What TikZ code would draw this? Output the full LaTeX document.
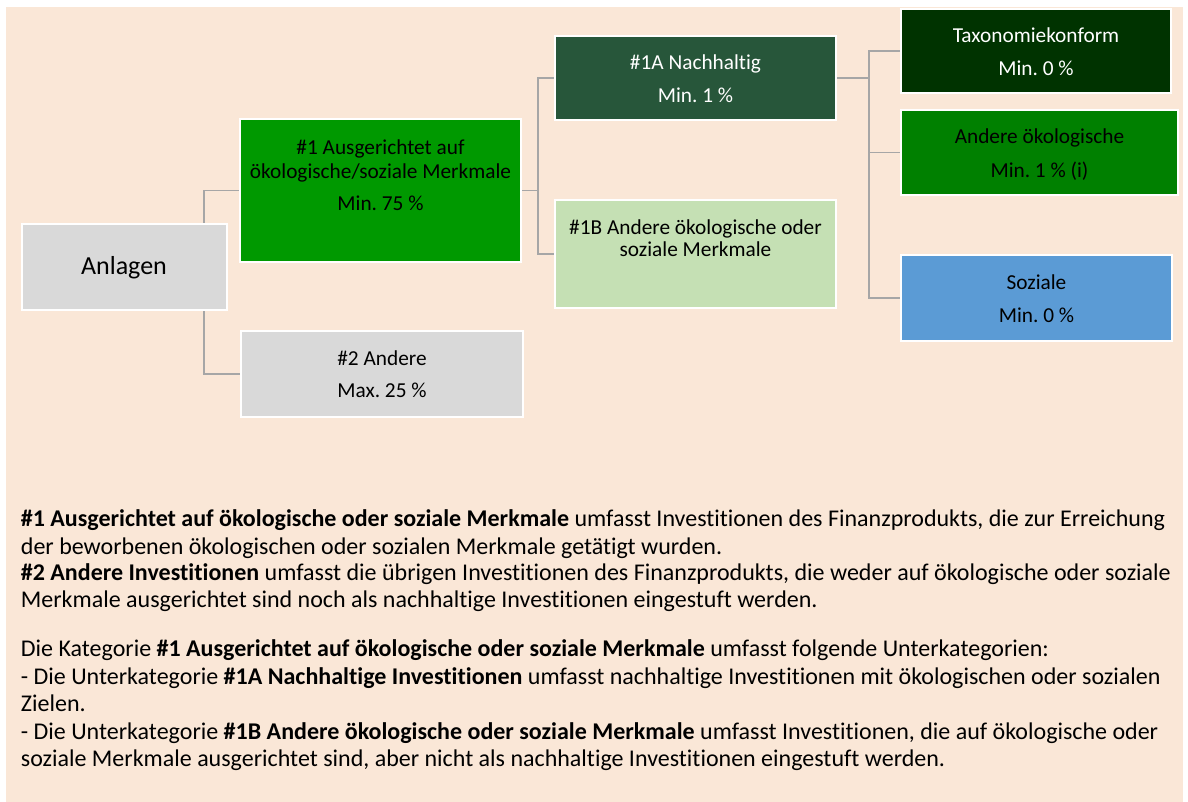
\documentclass[tikz,border=0pt]{standalone}
\usepackage{fontspec}
\setmainfont{Carlito}[Ligatures=NoCommon]
\usetikzlibrary{calc}

\definecolor{peach}{HTML}{FAE7D7}
\definecolor{greyfill}{HTML}{D9D9D9}
\definecolor{brightgreen}{HTML}{009900}
\definecolor{forest}{HTML}{27563A}
\definecolor{palegreen}{HTML}{C5E0B4}
\definecolor{nightgreen}{HTML}{003300}
\definecolor{midgreen}{HTML}{008000}
\definecolor{skyblue}{HTML}{5B9BD5}
\definecolor{linkgrey}{HTML}{A6A6A6}

\newcommand{\boxfont}{\fontsize{21.3}{25}\selectfont}
\newcommand{\rootfont}{\fontsize{26}{30}\selectfont}
\newcommand{\bodyfont}{\fontsize{24}{27}\selectfont}

\begin{document}
\frenchspacing
\begin{tikzpicture}[x=1pt, y=-1pt,
  box/.style={draw=white, line width=2pt, inner sep=0pt, outer sep=0pt},
  lbl/.style={anchor=base, inner sep=0pt, font=\boxfont},
  body/.style={anchor=base west, inner sep=0pt, font=\bodyfont},
  link/.style={draw=linkgrey, line width=1.5pt}]

\useasboundingbox (0,0) rectangle (1188,802);
\fill[white] (0,0) rectangle (1188,802);
\fill[peach] (6,7) rectangle (1183,802);

% boxes of the tree
\node[box, fill=greyfill,    minimum width=205, minimum height=86]   (anl) at (124.5,267) {};
\node[box, fill=brightgreen, minimum width=281, minimum height=143]  (b1)  at (380.5,190.5) {};
\node[box, fill=greyfill,    minimum width=282, minimum height=86]   (b2)  at (382,374) {};
\node[box, fill=forest,      minimum width=281, minimum height=84]   (b1a) at (695.5,78) {};
\node[box, fill=palegreen,   minimum width=281, minimum height=107.5] (b1b) at (695.5,254.25) {};
\node[box, fill=nightgreen,  minimum width=270, minimum height=84]   (tax) at (1036,51) {};
\node[box, fill=midgreen,    minimum width=277, minimum height=85.5] (ando) at (1039.5,152.75) {};
\node[box, fill=skyblue,     minimum width=271, minimum height=85.5] (soz) at (1036.5,297.75) {};

% elbow points of the connectors
\coordinate (ja) at (204,0);
\coordinate (jb) at (538,0);
\coordinate (jc) at (869,0);

% connectors (drawn, then the boxes are redrawn on top of them)
\path[link] (anl.north -| ja) |- (b1.west);
\path[link] (anl.south -| ja) |- (b2.west);
\path[link] (b1.east) -- (b1.east -| jb) |- (b1a.west);
\path[link] (b1.east -| jb) |- (b1b.west);
\path[link] (b1a.east) -- (b1a.east -| jc) |- (tax.west);
\path[link] (b1a.east -| jc) |- (ando.west);
\path[link] (b1a.east -| jc) |- (soz.west);

\foreach \n/\c in {anl/greyfill, b1/brightgreen, b2/greyfill, b1a/forest,
                   b1b/palegreen, tax/nightgreen, ando/midgreen, soz/skyblue}{
  \path[box, fill=\c] (\n.north west) rectangle (\n.south east);
}

% box texts
\node[lbl, font=\rootfont] (t-anl) at (124,275) {Anlagen};
\node[lbl] (t-b1-1) at (380.5,155) {\#1 Ausgerichtet auf};
\node[lbl] (t-b1-2) at (380.5,179) {ökologische/soziale Merkmale};
\node[lbl] (t-b1-3) at (380.5,211) {Min. 75 \%};
\node[lbl] (t-b2-1) at (382,365) {\#2 Andere};
\node[lbl] (t-b2-2) at (382,397) {Max. 25 \%};
\node[lbl, text=white] (t-b1a-1) at (695.5,69.5) {\#1A Nachhaltig};
\node[lbl, text=white] (t-b1a-2) at (695.5,102.5) {Min. 1 \%};
\node[lbl] (t-b1b-1) at (695.5,235) {\#1B Andere ökologische oder};
\node[lbl] (t-b1b-2) at (695.5,257) {soziale Merkmale};
\node[lbl, text=white] (t-tax-1) at (1036,42.5) {Taxonomiekonform};
\node[lbl, text=white] (t-tax-2) at (1036,75.5) {Min. 0 \%};
\node[lbl] (t-ando-1) at (1039.5,144) {Andere ökologische};
\node[lbl] (t-ando-2) at (1039.5,177.5) {Min. 1 \% (i)};
\node[lbl] (t-soz-1) at (1036.5,289.5) {Soziale};
\node[lbl] (t-soz-2) at (1036.5,322) {Min. 0 \%};

% explanatory text
\node[body] (p1) at (20.7,526.7) {\textbf{\#1 Ausgerichtet auf ökologische oder soziale Merkmale} umfasst Investitionen des Finanzprodukts, die zur Erreichung};
\node[body] (p2) at (20.7,554.3) {der beworbenen ökologischen oder sozialen Merkmale getätigt wurden.};
\node[body] (p3) at (20.7,580.7) {\textbf{\#2 Andere Investitionen} umfasst die übrigen Investitionen des Finanzprodukts, die weder auf ökologische oder soziale};
\node[body] (p4) at (20.7,607.7) {Merkmale ausgerichtet sind noch als nachhaltige Investitionen eingestuft werden.};
\node[body] (p5) at (20.7,656.7) {Die Kategorie \textbf{\#1 Ausgerichtet auf ökologische oder soziale Merkmale} umfasst folgende Unterkategorien:};
\node[body] (p6) at (20.7,684.3) {- Die Unterkategorie \textbf{\#1A Nachhaltige Investitionen} umfasst nachhaltige Investitionen mit ökologischen oder sozialen};
\node[body] (p7) at (20.7,711.7) {Zielen.};
\node[body] (p8) at (20.7,739.3) {- Die Unterkategorie \textbf{\#1B Andere ökologische oder soziale Merkmale} umfasst Investitionen, die auf ökologische oder};
\node[body] (p9) at (20.7,766.7) {soziale Merkmale ausgerichtet sind, aber nicht als nachhaltige Investitionen eingestuft werden.};
\end{tikzpicture}
\end{document}
